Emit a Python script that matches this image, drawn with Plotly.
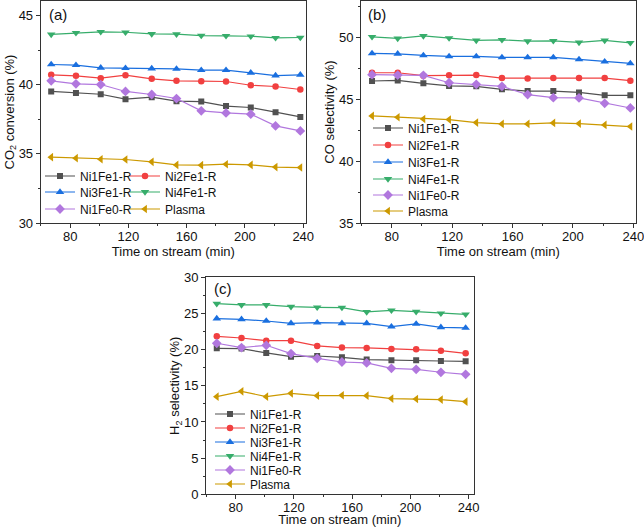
import plotly.graph_objects as go

# sampling times (min)
time_min = [67, 84, 101, 118, 136, 153, 170, 187, 204, 221, 238]
samples = ["Ni1Fe1-R", "Ni2Fe1-R", "Ni3Fe1-R", "Ni4Fe1-R", "Ni1Fe0-R", "Plasma"]

# (a) CO2 conversion (%)
co2_conv = [
    [39.51, 39.39, 39.31, 38.95, 39.10, 38.81, 38.78, 38.45, 38.35, 38.01, 37.67],
    [40.71, 40.64, 40.47, 40.69, 40.42, 40.28, 40.25, 40.23, 39.96, 39.87, 39.65],
    [41.46, 41.41, 41.22, 41.19, 41.17, 41.14, 41.05, 41.05, 40.86, 40.66, 40.71],
    [43.63, 43.75, 43.82, 43.79, 43.67, 43.65, 43.55, 43.53, 43.50, 43.39, 43.41],
    [40.28, 40.06, 40.01, 39.51, 39.29, 39.00, 38.11, 37.96, 37.87, 37.02, 36.66],
    [34.76, 34.69, 34.61, 34.59, 34.42, 34.20, 34.18, 34.25, 34.20, 34.04, 34.01],
]
# (b) CO selectivity (%)
co_sel = [
    [46.48, 46.53, 46.29, 46.08, 46.05, 45.81, 45.67, 45.67, 45.56, 45.32, 45.32],
    [47.15, 47.15, 46.91, 46.94, 46.96, 46.72, 46.69, 46.72, 46.72, 46.72, 46.51],
    [48.71, 48.68, 48.55, 48.47, 48.47, 48.39, 48.39, 48.39, 48.23, 48.04, 47.90],
    [50.05, 49.92, 50.13, 49.95, 49.76, 49.81, 49.70, 49.73, 49.60, 49.76, 49.57],
    [46.99, 46.96, 46.94, 46.34, 46.21, 46.05, 45.38, 45.13, 45.11, 44.68, 44.30],
    [43.66, 43.55, 43.41, 43.36, 43.12, 43.01, 43.01, 43.09, 43.04, 42.93, 42.80],
]
# (c) H2 selectivity (%)
h2_sel = [
    [20.18, 20.14, 19.54, 19.03, 19.12, 18.94, 18.62, 18.53, 18.53, 18.43, 18.39],
    [21.84, 21.61, 21.24, 21.24, 20.51, 20.28, 20.23, 20.09, 20.05, 19.86, 19.49],
    [24.29, 24.19, 23.96, 23.64, 23.73, 23.64, 23.64, 23.18, 23.55, 23.09, 23.00],
    [26.36, 26.18, 26.18, 25.94, 25.85, 25.81, 25.21, 25.44, 25.25, 25.02, 24.88],
    [20.88, 20.28, 20.60, 19.45, 18.80, 18.29, 18.16, 17.42, 17.28, 16.87, 16.59],
    [13.50, 14.24, 13.50, 13.96, 13.64, 13.69, 13.64, 13.23, 13.18, 13.09, 12.81],
]

colors = ["#515151", "#F14040", "#1A6FDF", "#37AD6B", "#B177DE", "#CC9900"]
symbols = ["square", "circle", "triangle-up", "triangle-down", "diamond", "triangle-left"]
msize = [6, 6.5, 7.5, 7.5, 7.5, 7.5]

W, H = 644, 527
FONT = "Arial, Liberation Sans, sans-serif"

# legend entry spots (text left edge, row centre) in px, one small legend per entry
leg_spots = [
    [(80, 176), (165, 176), (80, 192), (165, 192), (80, 209), (165, 209)],
    [(408, 128), (408, 145), (408, 162), (408, 179), (408, 195), (408, 211)],
    [(250, 414), (250, 428), (250, 442), (250, 456), (250, 470), (250, 484)],
]

fig = go.Figure()

panels = [(co2_conv, "x", "y"), (co_sel, "x2", "y2"), (h2_sel, "x3", "y3")]
legends = {}
k = 0
for p, (vals, xa, ya) in enumerate(panels):
    for i, name in enumerate(samples):
        k += 1
        lg = "legend" if k == 1 else "legend%d" % k
        tx, ty = leg_spots[p][i]
        legends[lg] = dict(x=(tx - 40) / W, y=1 - ty / H, xanchor="left", yanchor="middle",
                           bgcolor="rgba(0,0,0,0)",
                           font=dict(family=FONT, size=12, color="#111111"))
        fig.add_trace(go.Scatter(
            x=time_min, y=vals[i], name=name, mode="lines+markers",
            xaxis=xa, yaxis=ya, legend=lg,
            line=dict(color=colors[i], width=1.2),
            marker=dict(symbol=symbols[i], size=msize[i], color=colors[i]),
        ))

def px(x0, x1):
    return [x0 / W, x1 / W]

def py(top, bottom):
    return [1 - bottom / H, 1 - top / H]

axcommon = dict(
    showline=True, linecolor="#333333", linewidth=1, mirror=True,
    ticks="outside", ticklen=4, tickcolor="#333333", tickwidth=1,
    showgrid=False, zeroline=False, automargin=False,
    tickfont=dict(size=13, color="#111111", family=FONT),
    title_font=dict(size=13, color="#111111", family=FONT),
)
xcommon = dict(axcommon, dtick=40, tick0=0, ticklabelstandoff=-3, ticklabeloverflow="allow",
               minor=dict(dtick=20, ticks="outside", ticklen=2, tickcolor="#333333"),
               title=dict(text="Time on stream (min)", standoff=0))
ycommon = dict(axcommon, dtick=5,
               minor=dict(dtick=2.5, ticks="outside", ticklen=2, tickcolor="#333333"))

fig.update_layout(
    template="none",
    width=W, height=H, margin=dict(l=0, r=0, t=0, b=0),
    paper_bgcolor="white", plot_bgcolor="white",
    font=dict(family=FONT, size=13, color="#111111"),
    xaxis=dict(xcommon, domain=px(40.7, 306), range=[59.8, 241.9], anchor="y"),
    yaxis=dict(ycommon, domain=py(1, 223), range=[30, 46.05], anchor="x",
               title=dict(text="CO<sub>2</sub> conversion (%)", standoff=1)),
    xaxis2=dict(xcommon, domain=px(361, 635.5), range=[59.7, 241.4], anchor="y2"),
    yaxis2=dict(ycommon, domain=py(1, 223), range=[35, 52.95], anchor="x2",
                title=dict(text="CO selectivity (%)", standoff=1)),
    xaxis3=dict(xcommon, domain=px(206, 473.5), range=[59.6, 243.4], anchor="y3"),
    yaxis3=dict(ycommon, domain=py(277.3, 494.3), range=[0, 30], anchor="x3",
                title=dict(text="H<sub>2</sub> selectivity (%)", standoff=1)),
    showlegend=True,
    **legends,
)

for txt, x, y in [("(a)", 47, 15), ("(b)", 366, 15), ("(c)", 212, 288)]:
    fig.add_annotation(text=txt, x=x / W, y=1 - y / H, xref="paper", yref="paper",
                       xanchor="left", yanchor="middle", showarrow=False,
                       font=dict(size=15, family=FONT, color="#111111"))

# drop the browser's default 8px body margin so the figure sits at the page corner
fig.write_html("out.html", config={"displayModeBar": False},
               post_script="document.body.style.margin='0px';")
